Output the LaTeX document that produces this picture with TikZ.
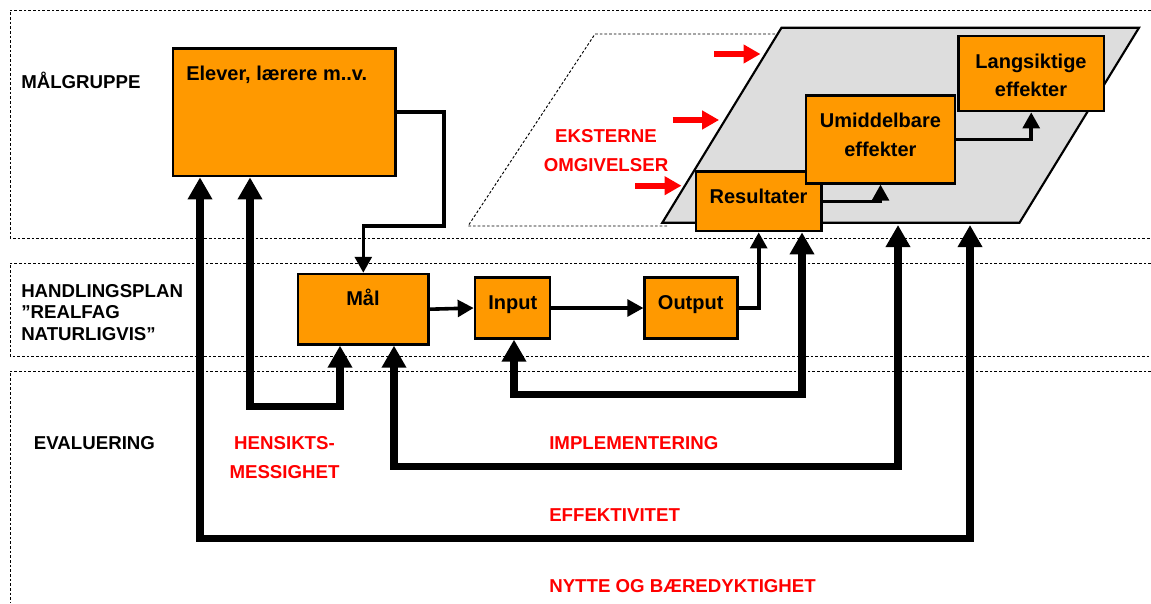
\documentclass[tikz,border=0pt]{standalone}
\usepackage{fontspec}
\setmainfont{Liberation Sans}
\usetikzlibrary{arrows.meta}
\definecolor{boxorange}{RGB}{255,153,0}
\definecolor{panelgray}{RGB}{221,221,221}
\definecolor{labred}{RGB}{255,0,0}
\tikzset{stage/.style={draw,line width=1.9pt,fill=boxorange,inner sep=0pt},
  boxtxt/.style={inner sep=0pt,font=\bfseries\fontsize{15}{21.4}\selectfont,align=center},
  lane/.style={line width=0.7pt,dash pattern=on 2pt off 1.5pt},
  lanetxt/.style={inner sep=0pt,font=\bfseries\fontsize{14}{16.1}\selectfont,align=left},
  evaltxt/.style={inner sep=0pt,text=labred,font=\bfseries\fontsize{14}{21.75}\selectfont,align=center},
  flow/.style={line width=2.7pt,-{Triangle[length=12pt,width=12.5pt]}},
  feedback/.style={line width=5.6pt,{Triangle[length=16.5pt,width=17.5pt]}-{Triangle[length=16.5pt,width=17.5pt]}},
  ext/.style={labred,line width=4.5pt,-{Triangle[length=12.75pt,width=13.5pt]}}}

\begin{document}
\begin{tikzpicture}[x=0.75pt,y=-0.75pt,line join=miter]
\useasboundingbox (0,0) rectangle (1151,603);
% --- lanes (open to the right)
\draw[lane] (1151,10) -- (10,10) -- (10,238) -- (1151,238);
\draw[lane] (1151,263) -- (10,263) -- (10,356) -- (1151,356);
\draw[lane] (1151,371) -- (10,371) -- (10,603);
\node[lanetxt,anchor=base west] (malgruppe) at (21,88.3) {MÅLGRUPPE};
\node[lanetxt,anchor=west] (handling) at (21,312.5) {HANDLINGSPLAN\\”REALFAG\\NATURLIGVIS”};
\node[lanetxt,anchor=base west] (evaluering) at (33.7,449.3) {EVALUERING};

% --- surroundings: dotted outline behind the grey panel
\draw[lane] (667,226) -- (468,226) -- (595,34) -- (781,34);
\coordinate (pbl) at (662.3,222.7); \coordinate (ptl) at (781.5,27.7);
\coordinate (ptr) at (1139,27.7); \coordinate (pbr) at (1019.5,222.7);
\draw[line width=1.6pt,fill=panelgray] (pbl) -- (ptl) -- (ptr) -- (pbr) -- cycle;
\foreach \x/\y in {714/54,672.6/120,635/185.7} \draw[ext] (\x,\y) -- ++(46.5,0);
\node[evaltxt] (eksterne) at (606,150.6) {EKSTERNE\\OMGIVELSER};

% --- boxes
\node[stage,minimum width=167pt,minimum height=95.8pt] (elever) at (284.4,112.2) {};
\node[stage,minimum width=98pt,minimum height=52.7pt] (mal) at (363.3,309.2) {};
\node[stage,minimum width=56.3pt,minimum height=45.5pt] (input) at (512.5,308) {};
\node[stage,minimum width=69.5pt,minimum height=45.5pt] (output) at (691,308) {};
\node[stage,minimum width=94pt,minimum height=44.5pt] (resultater) at (758.7,201.4) {};
\node[stage,minimum width=111.8pt,minimum height=65.7pt] (umiddelbare) at (880.5,139.5) {};
\node[stage,minimum width=108.9pt,minimum height=56.3pt] (langsiktige) at (1031.2,73.5) {};
\node[boxtxt,anchor=base west] (eleverT) at (186,80) {Elever, lærere m..v.};
\node[boxtxt,anchor=base] (malT) at (363,305) {Mål};
\node[boxtxt,anchor=base] (inputT) at (512.8,309.3) {Input};
\node[boxtxt,anchor=base] (outputT) at (690.7,309.3) {Output};
\node[boxtxt,anchor=base] (resultaterT) at (758.5,203.3) {Resultater};
\node[boxtxt] (umiddelbareT) at (880.4,134.7) {Umiddelbare\\effekter};
\node[boxtxt] (langsiktigeT) at (1031,75.4) {Langsiktige\\effekter};

% --- chain
\coordinate (bend) at (444,225.7);
\draw[flow] (elever.east) -| (bend) -| (mal.north);
\draw[flow] (mal.east) -- (input.west);
\draw[flow] (input.east) -- (output.west);
\draw[flow] (output.east) -| (resultater.south);
\draw[flow] (resultater.east) -| (umiddelbare.south);
\draw[flow] (umiddelbare.east) -| (langsiktige.south);

% --- evaluation loops
\coordinate (h1) at (250,406.7); \coordinate (h2) at (340,406.7);
\coordinate (n1) at (514,394.3); \coordinate (n2) at (802,394.3);
\coordinate (i1) at (394,466.7); \coordinate (i2) at (898,466.7);
\coordinate (e1) at (200,538.3); \coordinate (e2) at (970,538.3);
\draw[feedback] (elever.south -| h1) -- (h1) -- (h2) -- (mal.south -| h2);
\draw[feedback] (input.south -| n1) -- (n1) -- (n2) -- (resultater.south -| n2);
\draw[feedback] (mal.south -| i1) -- (i1) -- (i2) -- (898,225);
\draw[feedback] (elever.south -| e1) -- (e1) -- (e2) -- (970,225);
\node[evaltxt] (hensikt) at (284.5,457.2) {HENSIKTS-\\MESSIGHET};
\node[evaltxt,anchor=base west] (implement) at (549,449.3) {IMPLEMENTERING};
\node[evaltxt,anchor=base west] (effekt) at (549,521.7) {EFFEKTIVITET};
\node[evaltxt,anchor=base west] (nytte) at (549,592.7) {NYTTE OG BÆREDYKTIGHET};
\end{tikzpicture}
\end{document}
